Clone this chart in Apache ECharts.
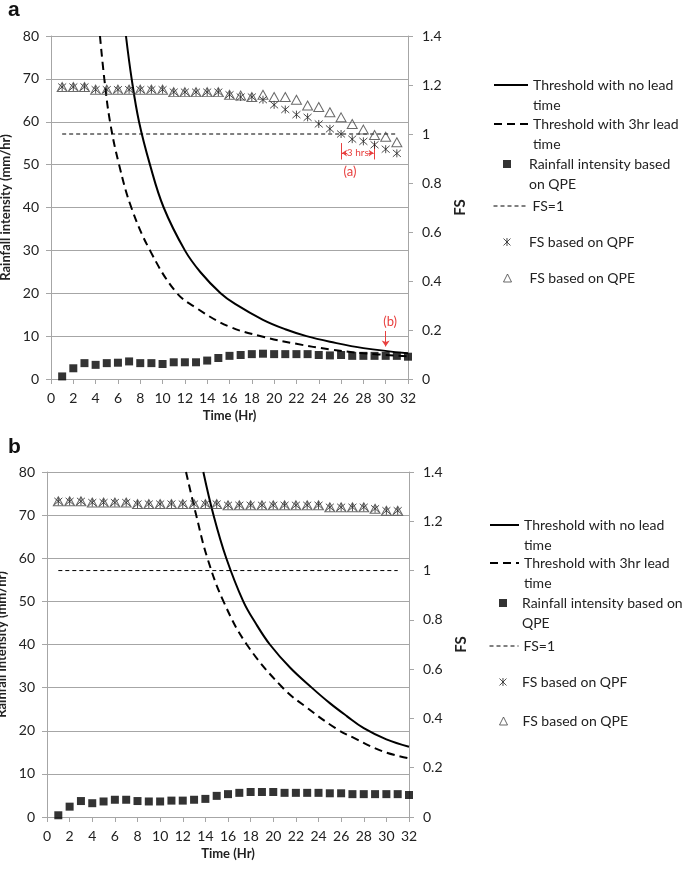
<!DOCTYPE html>
<html><head><meta charset="utf-8">
<script src="https://cdn.jsdelivr.net/npm/echarts@6/dist/echarts.min.js"></script>
<style>html,body{margin:0;padding:0;background:#fff}#c{width:685px;height:869px}</style>
</head><body><div id="c"></div>
<script>
// ---------- data ----------
const hours = [1,2,3,4,5,6,7,8,9,10,11,12,13,14,15,16,17,18,19,20,21,22,23,24,25,26,27,28,29,30,31,32];
const rainA = [0.6,2.5,3.7,3.3,3.7,3.8,4.1,3.7,3.7,3.5,3.9,3.9,3.9,4.3,4.9,5.4,5.6,5.8,5.9,5.8,5.8,5.8,5.8,5.6,5.5,5.6,5.4,5.4,5.4,5.4,5.4,5.2];
const rainB = [0.4,2.4,3.7,3.2,3.6,4.0,4.0,3.7,3.6,3.6,3.8,3.8,4.0,4.2,4.9,5.3,5.6,5.8,5.8,5.8,5.6,5.6,5.6,5.6,5.5,5.5,5.3,5.3,5.3,5.3,5.3,5.1];
const fsHours = [1,2,3,4,5,6,7,8,9,10,11,12,13,14,15,16,17,18,19,20,21,22,23,24,25,26,27,28,29,30,31];
const fsQpfA = [1.192,1.192,1.192,1.181,1.181,1.181,1.181,1.181,1.181,1.181,1.171,1.171,1.171,1.171,1.171,1.160,1.151,1.151,1.140,1.119,1.100,1.079,1.068,1.041,1.021,1.000,0.979,0.970,0.956,0.938,0.921];
const fsQpeA = [1.192,1.192,1.192,1.181,1.181,1.181,1.181,1.181,1.181,1.181,1.171,1.171,1.171,1.171,1.171,1.160,1.157,1.151,1.160,1.151,1.151,1.140,1.116,1.110,1.089,1.068,1.041,1.018,0.996,0.989,0.966];
const fsQpfB = [1.281,1.281,1.281,1.276,1.276,1.276,1.276,1.270,1.270,1.270,1.270,1.270,1.270,1.270,1.270,1.265,1.265,1.265,1.265,1.265,1.265,1.265,1.265,1.265,1.257,1.257,1.257,1.257,1.251,1.243,1.243];
const fsQpeB = [1.281,1.281,1.281,1.276,1.276,1.276,1.276,1.270,1.270,1.270,1.270,1.270,1.270,1.270,1.270,1.265,1.265,1.265,1.265,1.265,1.265,1.265,1.265,1.265,1.257,1.257,1.257,1.257,1.251,1.243,1.243];
// thresholds: [time, intensity]
const thrNoLeadA = [[6.72,80],[7.23,70],[7.89,60],[8.87,50],[10.1,40],[12.0,30],[13.4,24.9],[15.2,20],[16.5,17.5],[19,13.8],[21,11.6],[22.9,10],[25,8.7],[28,7.2],[32,6.0]];
const thrLead3A  = [[4.39,80],[4.78,70],[5.29,60],[6.1,50],[7.2,40],[8.87,30],[11.2,20.3],[13.06,16.5],[16,12.2],[19,9.87],[22,8.2],[25,6.9],[28,6.0],[32,5.3]];
const thrNoLeadB = [[13.82,80],[14.7,70.2],[15.85,60],[17.35,50],[18.5,44.7],[19.7,40],[21.5,34.6],[23.4,30],[25,26.4],[26.5,23.4],[28,20.6],[30,18.0],[32,16.3]];
const thrLead3B  = [[12.29,80],[13.17,70.2],[14.17,60.1],[15.6,50],[17.66,40],[20.9,29.8],[23,25.3],[25.5,20.6],[27,18.5],[29.7,15.2],[32,13.6]];
const fsOneLine = [[1,1],[31,1]];
const leftTicks = {min:0, max:80, interval:10};
const rightTicks = {min:0, max:1.4, interval:0.2};
const xTicks = {min:0, max:32, interval:2};

const NAMES = ['Threshold with no lead time','Threshold with 3hr lead time','Rainfall intensity based on QPE','FS=1','FS based on QPF','FS based on QPE'];
const WRAP_A = ['Threshold with no lead\ntime','Threshold with 3hr lead\ntime','Rainfall intensity based\non QPE','FS=1','FS based on QPF','FS based on QPE'];
const WRAP_B = ['Threshold with no lead\ntime','Threshold with 3hr lead\ntime','Rainfall intensity based on\nQPE','FS=1','FS based on QPF','FS based on QPE'];

// ---------- styling ----------
const FONT = 'Lato';
const TXT = '#222';
const GRID = '#a6a6a6';
const RED = '#e8403f';
const STAR = 'path://M0 0L8 8M8 0L0 8M4 -0.6L4 8.6';

function zip(xs, ys){ return xs.map((x,i)=>[x, ys[i]]); }

const grids = [
  {left:51, top:36, width:357, height:343},
  {left:47, top:472, width:362, height:345}
];
const xAxes = [], yAxes = [], series = [], legends = [];

grids.forEach((g, gi) => {
  xAxes.push({
    type:'value', gridIndex:gi, min:xTicks.min, max:xTicks.max, interval:xTicks.interval,
    name:'Time (Hr)', nameLocation:'middle', nameGap:30,
    nameTextStyle:{fontFamily:FONT, fontWeight:'bold', fontSize:13, color:TXT},
    axisLine:{show:true, lineStyle:{color:GRID, width:1}},
    axisTick:{show:true, length:5, lineStyle:{color:GRID}},
    axisLabel:{fontFamily:FONT, fontSize:14, color:TXT, margin:12, showMinLabel:true, showMaxLabel:true},
    splitLine:{show:false}
  });
  yAxes.push({
    type:'value', gridIndex:gi, position:'left', min:leftTicks.min, max:leftTicks.max, interval:leftTicks.interval,
    name:'Rainfall intensity (mm/hr)', nameLocation:'middle', nameRotate:90, nameGap: gi===0?34:31,
    nameTextStyle:{fontFamily:FONT, fontWeight:'bold', fontSize:13, color:TXT},
    axisLine:{show:true, lineStyle:{color:GRID, width:1}},
    axisTick:{show:true, length:5, lineStyle:{color:GRID}},
    axisLabel:{fontFamily:FONT, fontSize:14, color:TXT, margin:12},
    splitLine:{show:true, lineStyle:{color:GRID, width:1}}
  });
  yAxes.push({
    type:'value', gridIndex:gi, position:'right', min:rightTicks.min, max:rightTicks.max, interval:rightTicks.interval,
    name:'FS', nameLocation:'middle', nameRotate:90, nameGap:37,
    nameTextStyle:{fontFamily:FONT, fontWeight:'bold', fontSize:15, color:TXT},
    axisLine:{show:true, lineStyle:{color:GRID, width:1}},
    axisTick:{show:true, length:5, lineStyle:{color:GRID}},
    axisLabel:{fontFamily:FONT, fontSize:14, color:TXT, margin:14},
    splitLine:{show:false}
  });
});

function panelSeries(gi, noLead, lead3, rain, qpf, qpe){
  const xi = gi, yl = gi*2, yr = gi*2+1;
  return [
    {name:NAMES[0], type:'line', xAxisIndex:xi, yAxisIndex:yl, data:noLead, smooth:0.4,
     symbol:'none', lineStyle:{color:'#000', width:2}, itemStyle:{color:'#000'}, z:3},
    {name:NAMES[1], type:'line', xAxisIndex:xi, yAxisIndex:yl, data:lead3, smooth:0.4,
     symbol:'none', lineStyle:{color:'#000', width:2, type:[8,5]}, itemStyle:{color:'#000'}, z:3},
    {name:NAMES[2], type:'scatter', xAxisIndex:xi, yAxisIndex:yl, data:zip(hours, rain),
     symbol:'rect', symbolSize:8, itemStyle:{color:'#000'}, z:4},
    {name:NAMES[3], type:'line', xAxisIndex:xi, yAxisIndex:yr, data:fsOneLine,
     symbol:'none', lineStyle:{color:'#000', width:1, type:[4,3]}, itemStyle:{color:'#000'}, z:3},
    {name:NAMES[4], type:'scatter', xAxisIndex:xi, yAxisIndex:yr, data:zip(fsHours, qpf),
     symbol:STAR, symbolSize:8, itemStyle:{color:'rgba(0,0,0,0)', borderColor:'#222', borderWidth:1}, z:5},
    {name:NAMES[5], type:'scatter', xAxisIndex:xi, yAxisIndex:yr, data:zip(fsHours, qpe),
     symbol:'triangle', symbolSize:[10,9], itemStyle:{color:'rgba(255,255,255,0)', borderColor:'#444', borderWidth:1}, z:5}
  ];
}

const sA = panelSeries(0, thrNoLeadA, thrLead3A, rainA, fsQpfA, fsQpeA);
const sB = panelSeries(1, thrNoLeadB, thrLead3B, rainB, fsQpfB, fsQpeB);

// annotations on panel a
sA[4].markLine = {
  silent:true, animation:false, symbol:['none','none'], label:{show:false},
  lineStyle:{color:RED, width:1, type:'solid'},
  data:[
    [{coord:[26,0.963]},{coord:[26,0.896]}],
    [{coord:[29,0.963]},{coord:[29,0.896]}],
    [{coord:[26.55,0.922], symbol:'none'},{coord:[26.08,0.922], symbol:'arrow', symbolSize:5}],
    [{coord:[28.45,0.922], symbol:'none'},{coord:[28.92,0.922], symbol:'arrow', symbolSize:5}]
  ]
};
sA[4].markPoint = {
  silent:true, animation:false, symbol:'circle', symbolSize:0,
  label:{show:true, position:'inside', color:RED, fontFamily:FONT},
  data:[
    {coord:[27.5,0.922], value:'3 hrs', label:{formatter:'3 hrs', fontSize:10}},
    {coord:[26.8,0.845], value:'(a)', label:{formatter:'(a)', fontSize:13}}
  ]
};
sA[2].markLine = {
  silent:true, animation:false, symbol:['none','arrow'], symbolSize:6, label:{show:false},
  lineStyle:{color:RED, width:1, type:'solid'},
  data:[[{coord:[30,11.2]},{coord:[30,7.6]}]]
};
sA[2].markPoint = {
  silent:true, animation:false, symbol:'circle', symbolSize:0,
  label:{show:true, position:'inside', color:RED, fontFamily:FONT, fontSize:13},
  data:[{coord:[30.4,13.3], value:'(b)', label:{formatter:'(b)'}}]
};

series.push(...sA, ...sB);

// legends: one component per entry so each row sits where the reference has it
function addLegend(wraps, centers, lineLeft, lineW, symCenter, textX){
  NAMES.forEach((nm, i) => {
    const two = wraps[i].indexOf('\n') >= 0;
    const isLine = i <= 3 && i !== 2;
    const iw = isLine ? lineW : 8, ih = isLine ? 14 : 8;
    const left = isLine ? lineLeft : symCenter - 4;
    const padL = textX - (left + iw + 5);
    legends.push({
      orient:'vertical', left:left, top: centers[i] - (two ? 30 : 10), padding:0,
      itemWidth:iw, itemHeight:ih, itemGap:0, selectedMode:false,
      formatter: two ? '\u00a0\n' + wraps[i] : wraps[i],
      data:[{name:nm}],
      textStyle:{fontFamily:FONT, fontSize:14, lineHeight:20, color:TXT, padding:[0,0,0,Math.max(0,padL)]},
      itemStyle: isLine ? {color:'rgba(0,0,0,0)', borderWidth:0} : {borderWidth:1},
      lineStyle: i===3 ? {width:1} : {width:2}
    });
  });
}
addLegend(WRAP_A, [85,124,164,206,242,278], 493, 34, 507, 529);
addLegend(WRAP_B, [525,563,603,646,682,721], 489, 29, 503, 522);

const chart = echarts.init(document.getElementById('c'), null, {renderer:'canvas'});
chart.setOption({
  animation:false,
  backgroundColor:'#fff',
  textStyle:{fontFamily:FONT},
  title:[
    {text:'a', left:3, top:-5, textStyle:{fontFamily:'Liberation Sans', fontWeight:'bold', fontSize:21, color:'#111'}},
    {text:'b', left:3, top:432, textStyle:{fontFamily:'Liberation Sans', fontWeight:'bold', fontSize:21, color:'#111'}}
  ],
  grid: grids.map(g => Object.assign({outerBoundsMode:'none', containLabel:false}, g)),
  xAxis:xAxes, yAxis:yAxes, series:series, legend:legends, tooltip:{show:false}
});
</script></body></html>
